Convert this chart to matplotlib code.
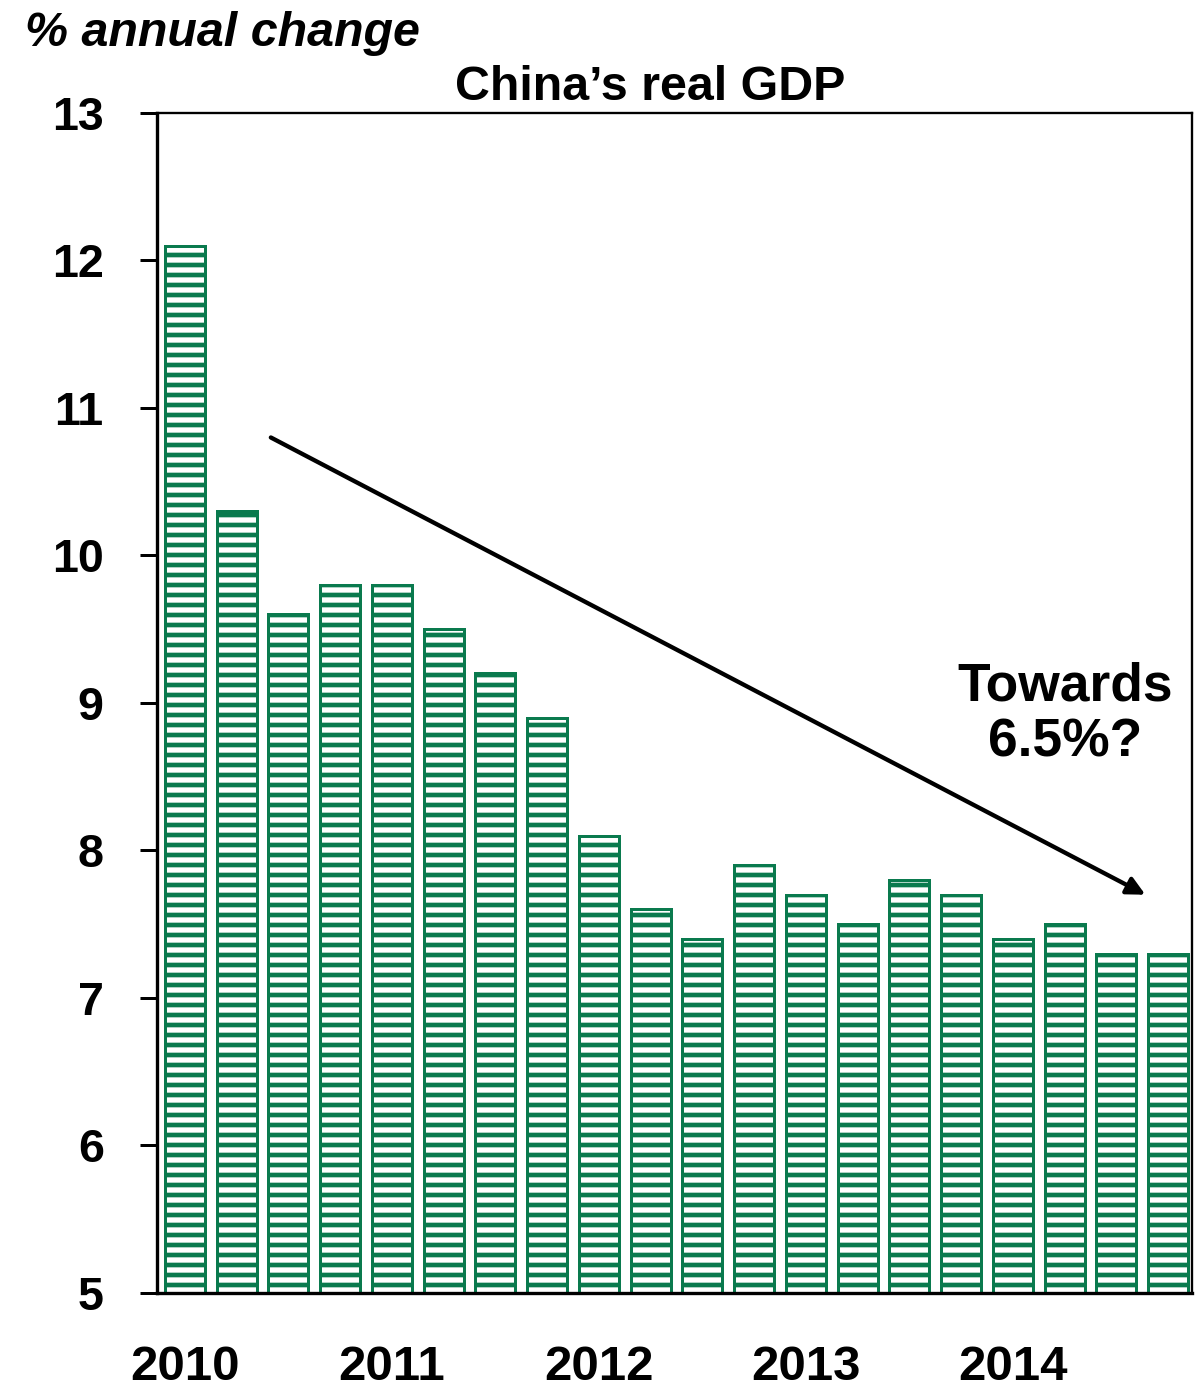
import matplotlib
matplotlib.use("Agg")
import matplotlib.pyplot as plt
import numpy as np

# quarterly real GDP growth, % y/y, 2010 Q1 .. 2014 Q4
quarters = ["2010 Q1", "2010 Q2", "2010 Q3", "2010 Q4",
            "2011 Q1", "2011 Q2", "2011 Q3", "2011 Q4",
            "2012 Q1", "2012 Q2", "2012 Q3", "2012 Q4",
            "2013 Q1", "2013 Q2", "2013 Q3", "2013 Q4",
            "2014 Q1", "2014 Q2", "2014 Q3", "2014 Q4"]
gdp_growth = [12.1, 10.3, 9.6, 9.8,
              9.8, 9.5, 9.2, 8.9,
              8.1, 7.6, 7.4, 7.9,
              7.7, 7.5, 7.8, 7.7,
              7.4, 7.5, 7.3, 7.3]
year_labels = ["2010", "2011", "2012", "2013", "2014"]
year_positions = [0, 4, 8, 12, 16]
trend_start = (2.2, 10.8)
trend_end = (19.1, 7.7)

green = "#0A7A4E"
plt.rcParams["font.family"] = ["Liberation Sans", "DejaVu Sans"]
plt.rcParams["hatch.linewidth"] = 2.8
plt.rcParams["hatch.color"] = green

fig = plt.figure(figsize=(1204 / 120, 1383 / 120), dpi=120)
ax = fig.add_axes([0.1304, 0.0651, 0.8596, 0.8532])

x = np.arange(len(gdp_growth)) + 0.54
ax.bar(x, gdp_growth, width=0.775, color="white", edgecolor=green,
       linewidth=1.8, hatch="--")

ax.set_xlim(0, 20)
ax.set_ylim(5, 13)
ax.set_yticks(range(5, 14))
ax.set_xticks(x[year_positions])
ax.set_xticklabels(year_labels)
ax.tick_params(axis="x", length=0, pad=31, labelsize=29.5)
ax.tick_params(axis="y", length=10, width=1.8, direction="out", pad=22,
               labelsize=28)
for lbl in ax.get_xticklabels() + ax.get_yticklabels():
    lbl.set_fontweight("bold")

for side in ["left", "bottom"]:
    ax.spines[side].set_linewidth(2.0)
for side in ["top", "right"]:
    ax.spines[side].set_linewidth(1.4)

ax.annotate("", xy=trend_end, xytext=trend_start,
            arrowprops=dict(arrowstyle="-|>,head_length=0.9,head_width=0.45",
                            color="black", lw=2.6, shrinkA=0, shrinkB=0))
ax.text(17.55, 8.92, "Towards\n6.5%?", ha="center", va="center",
        fontsize=32, fontweight="bold", linespacing=1.15)

fig.text(650 / 1204, 1 - 88 / 1383, "China\u2019s real GDP", ha="center",
         va="center", fontsize=29, fontweight="bold")
fig.text(25 / 1204, 1 - 33 / 1383, "% annual change", ha="left",
         va="center", fontsize=29, fontweight="bold", style="italic")

fig.savefig("out.png", dpi=120)
